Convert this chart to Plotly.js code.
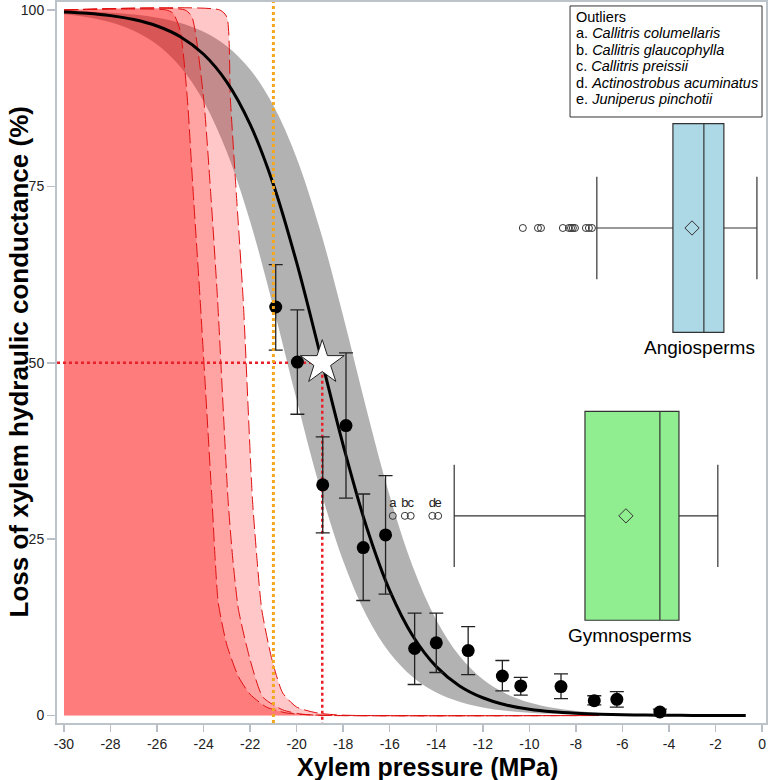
<!DOCTYPE html>
<html><head><meta charset="utf-8">
<script src="https://cdn.plot.ly/plotly-3.0.1.min.js"></script>
<style>body{margin:0;background:#fff}#chart{width:768px;height:780px}</style>
</head><body><div id="chart"></div>
<script>
// Pressure grid (MPa) for the fitted vulnerability curve and its confidence band
const pressureGrid = [-30,-29,-28,-27,-26,-25,-24,-23,-22,-21,-20,-19,-18,-17,-16,-15,-14,-13,-12,-11,-10,-9,-8,-7,-6,-5,-4,-3,-2,-1,-0.7];
const fitPLC   = [99.72,99.53,99.20,98.65,97.73,96.21,93.72,89.78,83.79,75.27,64.18,51.33,38.30,26.76,17.70,11.23,6.93,4.20,2.52,1.50,0.89,0.52,0.31,0.18,0.11,0.06,0.04,0.02,0.01,0.01,0.01];
const bandLow  = [99.39,98.96,98.25,97.06,95.11,91.97,87.08,79.86,70.01,57.88,44.72,32.26,21.89,14.16,8.85,5.41,3.25,1.94,1.15,0.68,0.40,0.24,0.14,0.08,0.05,0.03,0.02,0.01,0.01,0.00,0.00];
const bandHigh = [99.87,99.78,99.62,99.35,98.91,98.16,96.91,94.86,91.57,86.47,79.00,68.89,56.59,43.42,31.11,21.00,13.53,8.43,5.14,3.09,1.84,1.09,0.65,0.38,0.22,0.13,0.08,0.05,0.03,0.02,0.01];

// Red (dashed) curves
const red1P = [-30,-25.6,-25.3,-25.0,-24.7,-24.45,-24.15,-23.64,-23.5,-23.37,-23.0,-22.5,-22.0,-21.3,-20.5,-19.5,-18,-7];
const red1Y = [100,100,99.5,97,87.5,74.3,59,30.6,22,16,10,5.5,3,1.2,0.4,0.1,0,0];
const red2P = [-30,-24.8,-24.5,-24.0,-23.7,-23.4,-22.95,-22.74,-22.5,-22.0,-21.45,-20.6,-19.8,-18.5,-7];
const red2Y = [100,100,99,87.5,74.3,59,30.6,22,15,7.9,2.6,0.8,0.2,0,0];
const red3P = [-30,-23.3,-23.0,-22.85,-22.6,-22.3,-21.9,-21.7,-21.5,-21.06,-20.6,-20.0,-19.1,-18.0,-7];
const red3Y = [100,100,99,87.5,74.3,59,30.6,22,15,7.9,3.2,1.2,0.35,0.05,0];

// Observed data with error bars
const obsP       = [-20.90,-19.97,-17.88,-18.88,-17.14,-16.18,-14.93,-14.00,-12.63,-11.16,-10.37,-8.64,-7.21,-6.24,-4.39];
const obsPLC     = [57.9,50.1,41.1,32.7,23.8,25.6,9.5,10.3,9.2,5.6,4.2,4.1,2.1,2.3,0.5];
const obsErrUp   = [6.0,7.4,10.3,6.8,7.6,8.4,5.0,4.2,3.4,2.2,1.2,1.8,0.7,1.1,0.4];
const obsErrDown = [6.1,7.4,10.3,6.8,7.5,8.4,5.1,4.2,3.4,2.1,1.3,1.7,0.6,1.1,0.4];

// Reference values
const p50Value = -18.9;
const p50PLC = 50;
const orangeLineP = -21;

// Box plots (P50 distributions)
const groups      = ['Angiosperms','Gymnosperms'];
const groupPos    = [69.1, 28.3];
const boxQ1       = [-3.83, -7.61];
const boxMedian   = [-2.50, -4.39];
const boxQ3       = [-1.64, -3.57];
const boxLow      = [-7.10, -13.23];
const boxHigh     = [-0.22, -1.90];
const boxMean     = [-3.01, -5.85];
const boxColors   = ['#add8e6', '#90ee90'];
const angioOutliers = [-10.28,-9.63,-9.50,-8.56,-8.30,-8.21,-8.13,-8.04,-7.57,-7.44,-7.31];
const gymnoOutliers = [-15.87,-15.35,-15.10,-14.17,-13.92];
const outlierLetters = ['a','b','c','d','e'];
const outlierNames = ['Callitris columellaris','Callitris glaucophylla','Callitris preissii','Actinostrobus acuminatus','Juniperus pinchotii'];

const xTicks = [-30,-28,-26,-24,-22,-20,-18,-16,-14,-12,-10,-8,-6,-4,-2,0];
const yTicks = [0,25,50,75,100];

const FONT = 'Liberation Sans, Arial, sans-serif';
const traces = [];

traces.push({x: pressureGrid, y: bandLow, mode:'lines', line:{width:0, shape:'spline'}, hoverinfo:'skip', showlegend:false});
traces.push({x: pressureGrid, y: bandHigh, mode:'lines', fill:'tonexty', fillcolor:'#b2b2b2', line:{width:0, shape:'spline'}, hoverinfo:'skip', showlegend:false});

const redDash = '14px,5px';
traces.push({x: red3P, y: red3Y, mode:'lines', fill:'tozeroy', fillcolor:'rgba(255,0,0,0.22)', line:{color:'#e01010', width:1, dash:redDash, shape:'spline', smoothing:0.6}, hoverinfo:'skip', showlegend:false});
traces.push({x: red2P, y: red2Y, mode:'lines', fill:'tozeroy', fillcolor:'rgba(255,0,0,0.18)', line:{color:'#e01010', width:1, dash:redDash, shape:'spline', smoothing:0.6}, hoverinfo:'skip', showlegend:false});
traces.push({x: red1P, y: red1Y, mode:'lines', fill:'tozeroy', fillcolor:'rgba(255,0,0,0.24)', line:{color:'#e01010', width:1, dash:redDash, shape:'spline', smoothing:0.6}, hoverinfo:'skip', showlegend:false});

traces.push({x: pressureGrid, y: fitPLC, mode:'lines', line:{color:'#000', width:3, shape:'spline'}, hoverinfo:'skip', showlegend:false});

// red dotted reference lines to P50
traces.push({x:[-30.3, p50Value, null, p50Value, p50Value], y:[p50PLC, p50PLC, null, p50PLC, -1.06], mode:'lines', line:{color:'#e8202a', width:2.5, dash:'dot'}, hoverinfo:'skip', showlegend:false});

traces.push({x: obsP, y: obsPLC, mode:'markers', marker:{color:'#000', size:13},
  error_y:{type:'data', symmetric:false, array: obsErrUp, arrayminus: obsErrDown, color:'#222', thickness:1.3, width:7},
  hoverinfo:'skip', showlegend:false});

traces.push({x:[p50Value], y:[p50PLC], mode:'markers', marker:{symbol:'star', size:33, color:'#fff', line:{color:'#222', width:1}}, hoverinfo:'skip', showlegend:false});

for (let i = 0; i < groups.length; i++) {
  traces.push({type:'box', orientation:'h', y:[groupPos[i]], q1:[boxQ1[i]], median:[boxMedian[i]], q3:[boxQ3[i]],
    lowerfence:[boxLow[i]], upperfence:[boxHigh[i]], width:29.6, whiskerwidth:0.49, boxpoints:false,
    fillcolor: boxColors[i], line:{color:'#333', width:1.2}, hoverinfo:'skip', showlegend:false});
}
traces.push({x: boxMean, y: groupPos, mode:'markers', marker:{symbol:'diamond-open', size:11, color:'#333', line:{width:1}}, hoverinfo:'skip', showlegend:false});
traces.push({x: angioOutliers, y: angioOutliers.map(() => groupPos[0]), mode:'markers', marker:{symbol:'circle-open', size:7, color:'#333', line:{width:1}}, hoverinfo:'skip', showlegend:false});
traces.push({x: gymnoOutliers, y: gymnoOutliers.map(() => groupPos[1]), mode:'markers+text', text: outlierLetters, textposition:'top center',
  textfont:{family:FONT, size:13, color:'#222'},
  marker:{symbol:'circle-open', size:7, color:'#333', line:{width:1}}, hoverinfo:'skip', showlegend:false});

const annotations = [];
annotations.push({xref:'x', yref:'y', x:-2.70, y:52.2, text: groups[0], showarrow:false, font:{family:FONT, size:19, color:'#000'}, xanchor:'center', yanchor:'middle'});
annotations.push({xref:'x', yref:'y', x:-5.66, y:11.4, text: groups[1], showarrow:false, font:{family:FONT, size:19, color:'#000'}, xanchor:'center', yanchor:'middle'});

// Outlier key
const keyLines = ['Outliers'].concat(outlierNames.map((n, i) => outlierLetters[i] + '. <i>' + n + '</i>'));
const keyY = [0.9792, 0.9565, 0.9337, 0.9109, 0.8882, 0.8655];
keyLines.forEach((t, i) => annotations.push({xref:'paper', yref:'paper', x:0.7292, y:keyY[i], text:t, showarrow:false,
  xanchor:'left', yanchor:'middle', font:{family:FONT, size:14.5, color:'#000'}}));

// axis titles
annotations.push({xref:'paper', yref:'paper', x:0.523, y:-0.0615, text:'Xylem pressure (MPa)', showarrow:false,
  font:{family:FONT, size:25, color:'#000', weight:'bold'}, xanchor:'center', yanchor:'middle'});
annotations.push({xref:'paper', yref:'paper', x:-0.055, y:0.5, text:'Loss of xylem hydraulic conductance (%)', showarrow:false, textangle:-90,
  font:{family:FONT, size:26, color:'#000', weight:'bold'}, xanchor:'center', yanchor:'middle'});

const layout = {
  width:768, height:780,
  margin:{l:57, r:2, t:2, b:57},
  paper_bgcolor:'#fff', plot_bgcolor:'#fff',
  showlegend:false,
  font:{family:FONT, color:'#222'},
  xaxis:{range:[-30.3, 0.17], tickvals:xTicks, ticktext:xTicks.map(String), ticks:'outside', ticklen:7, tickwidth:1.5, tickcolor:'#b8bfc6',
    showline:true, linecolor:'#bcc3c9', linewidth:2, mirror:true, showgrid:false, zeroline:false,
    tickfont:{family:FONT, size:14, color:'#222'}},
  yaxis:{range:[-1.06, 101.13], tickvals:yTicks, ticks:'outside', ticklen:8, tickwidth:1.5, tickcolor:'#b8bfc6',
    showline:true, linecolor:'#bcc3c9', linewidth:2, mirror:true, showgrid:false, zeroline:false,
    tickfont:{family:FONT, size:14, color:'#222'}},
  shapes:[
    {type:'line', xref:'x', yref:'paper', x0:orangeLineP, x1:orangeLineP, y0:0, y1:1, line:{color:'#f2a81d', width:3, dash:'dot'}, layer:'above'},
    {type:'rect', xref:'paper', yref:'paper', x0:0.7236, x1:0.9944, y0:0.8405, y1:0.9945, line:{color:'#333', width:1}, fillcolor:'#fff', layer:'above'}
  ],
  annotations: annotations
};

Plotly.newPlot('chart', traces, layout, {displayModeBar:false, staticPlot:true});
</script></body></html>
